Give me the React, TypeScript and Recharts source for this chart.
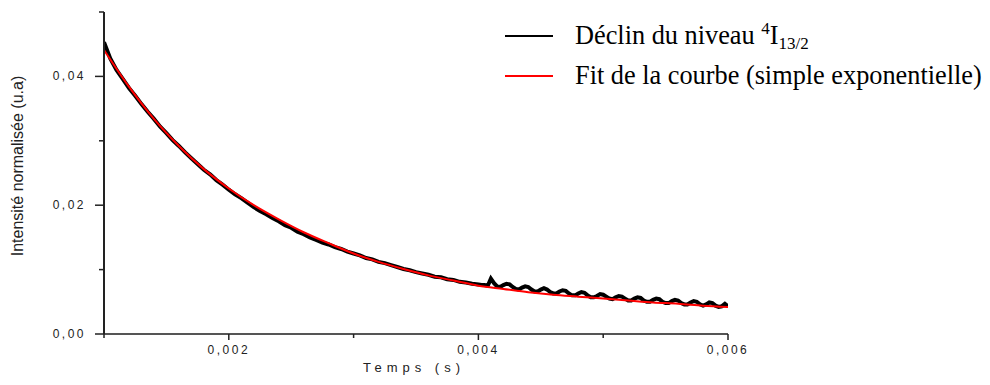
import React from "react";
import { LineChart, Line, XAxis, YAxis } from "recharts";

// temps (s) et intensité du déclin mesuré
const decayTime = [
  0.001, 0.00105, 0.0011, 0.00115, 0.0012, 0.00125, 0.0013, 0.00135, 0.0014, 0.00145,
  0.0015, 0.00155, 0.0016, 0.00165, 0.0017, 0.00175, 0.0018, 0.00185, 0.0019, 0.00195,
  0.002, 0.00205, 0.0021, 0.00215, 0.0022, 0.00225, 0.0023, 0.00235, 0.0024, 0.00245,
  0.0025, 0.00255, 0.0026, 0.00265, 0.0027, 0.00275, 0.0028, 0.00285, 0.0029, 0.00295,
  0.003, 0.00305, 0.0031, 0.00315, 0.0032, 0.00325, 0.0033, 0.00335, 0.0034, 0.00345,
  0.0035, 0.00355, 0.0036, 0.00365, 0.0037, 0.00375, 0.0038, 0.00385, 0.0039, 0.00395,
  0.004,
  0.004025, 0.00405, 0.004075, 0.0041, 0.004125, 0.00415, 0.004175, 0.0042, 0.004225, 0.00425,
  0.004275, 0.0043, 0.004325, 0.00435, 0.004375, 0.0044, 0.004425, 0.00445, 0.004475, 0.0045,
  0.004525, 0.00455, 0.004575, 0.0046, 0.004625, 0.00465, 0.004675, 0.0047, 0.004725, 0.00475,
  0.004775, 0.0048, 0.004825, 0.00485, 0.004875, 0.0049, 0.004925, 0.00495, 0.004975, 0.005,
  0.005025, 0.00505, 0.005075, 0.0051, 0.005125, 0.00515, 0.005175, 0.0052, 0.005225, 0.00525,
  0.005275, 0.0053, 0.005325, 0.00535, 0.005375, 0.0054, 0.005425, 0.00545, 0.005475, 0.0055,
  0.005525, 0.00555, 0.005575, 0.0056, 0.005625, 0.00565, 0.005675, 0.0057, 0.005725, 0.00575,
  0.005775, 0.0058, 0.005825, 0.00585, 0.005875, 0.0059, 0.005925, 0.00595, 0.005975, 0.006,
];

const decayValue = [
  0.0453, 0.0428, 0.041, 0.0396, 0.0382, 0.037, 0.0357, 0.0345, 0.0334, 0.0322,
  0.0312, 0.0301, 0.0292, 0.0282, 0.0273, 0.0264, 0.0255, 0.0248, 0.0239, 0.0232,
  0.0224, 0.0217, 0.0211, 0.0204, 0.0197, 0.0191, 0.0186, 0.018, 0.0175, 0.0169,
  0.0165, 0.0159, 0.0155, 0.015, 0.0146, 0.0142, 0.0139, 0.0135, 0.0132, 0.0128,
  0.0125, 0.0122, 0.0118, 0.0116, 0.0112, 0.011, 0.0107, 0.0104, 0.0101, 0.0099,
  0.0096, 0.0094, 0.0092, 0.0089, 0.0088, 0.0085, 0.0084, 0.0081, 0.008, 0.0078,
  0.0077,
  0.0076, 0.0076, 0.0075, 0.0086, 0.0079, 0.0074, 0.0073, 0.0076, 0.0078, 0.0077,
  0.0073, 0.007, 0.0069, 0.0072, 0.0074, 0.0073, 0.0069, 0.0066, 0.0066, 0.0069,
  0.0071, 0.0069, 0.0065, 0.0063, 0.0063, 0.0066, 0.0068, 0.0067, 0.0063, 0.006,
  0.006, 0.0063, 0.0065, 0.0064, 0.006, 0.0057, 0.0057, 0.0059, 0.0062, 0.0061,
  0.0058, 0.0055, 0.0054, 0.0057, 0.0059, 0.0058, 0.0055, 0.0052, 0.0052, 0.0055,
  0.0057, 0.0056, 0.0052, 0.005, 0.005, 0.0053, 0.0055, 0.0054, 0.005, 0.0048,
  0.0048, 0.0051, 0.0053, 0.0052, 0.0048, 0.0046, 0.0046, 0.0049, 0.0051, 0.005,
  0.0046, 0.0044, 0.0046, 0.0049, 0.0048, 0.0044, 0.0042, 0.0043, 0.0047, 0.0043,
];

// ajustement mono-exponentiel
const fitTime = [
  0.001, 0.0012, 0.0014, 0.0016, 0.0018, 0.002, 0.0022, 0.0024, 0.0026, 0.0028,
  0.003, 0.0032, 0.0034, 0.0036, 0.0038, 0.004, 0.0042, 0.0044, 0.0046, 0.0048,
  0.005, 0.0052, 0.0054, 0.0056, 0.0058, 0.006,
];
const fitValue = [
  0.0441, 0.0384, 0.0334, 0.0292, 0.0256, 0.0226, 0.02, 0.0178, 0.0158, 0.0141,
  0.0125, 0.0112, 0.0101, 0.0091, 0.0083, 0.0075, 0.007, 0.0065, 0.0061, 0.0058,
  0.0055, 0.0052, 0.0049, 0.0047, 0.0044, 0.0042,
];

const xTicks = [0.001, 0.002, 0.003, 0.004, 0.005, 0.006];
const xLabelTicks = [0.002, 0.004, 0.006];
const yTicks = [0, 0.01, 0.02, 0.03, 0.04, 0.05];
const yLabelTicks = [0, 0.02, 0.04];

const seriesNames = ["Déclin du niveau", "Fit de la courbe (simple exponentielle)"];
const seriesColors = ["#000000", "#ff0000"];

const decayData = decayTime.map((t, i) => ({ t, v: decayValue[i] }));
const fitData = fitTime.map((t, i) => ({ t, v: fitValue[i] }));

const sans = "'Liberation Sans', Arial, sans-serif";
const serif = "'Liberation Serif', 'Times New Roman', serif";
const fr = (v: number, d: number) => v.toFixed(d).replace(".", ",");

const YTick = (props: any) => {
  const { x, y, payload } = props;
  const major = yLabelTicks.includes(payload.value);
  return (
    <g>
      <line x1={x - (major ? 9 : 5)} x2={x} y1={y} y2={y} stroke="#222" strokeWidth={1.5} />
      {major && (
        <text x={x - 18} y={y + 4} textAnchor="end" fontFamily={sans} fontSize={12} letterSpacing={2.5} fill="#222">
          {fr(payload.value, 2)}
        </text>
      )}
    </g>
  );
};

const XTick = (props: any) => {
  const { x, y, payload } = props;
  const major = xLabelTicks.includes(payload.value);
  return (
    <g>
      <line x1={x} x2={x} y1={y} y2={y + (major ? 6 : 4)} stroke="#222" strokeWidth={1.5} />
      {major && (
        <text x={x} y={y + 20} textAnchor="middle" fontFamily={sans} fontSize={12} letterSpacing={2.5} fill="#222">
          {fr(payload.value, 3)}
        </text>
      )}
    </g>
  );
};

const LegendBox = () => (
  <div style={{ position: "absolute", left: 505, top: 16, fontFamily: serif, fontSize: 26.3, color: "#000" }}>
    {seriesNames.map((name, i) => (
      <div key={name} style={{ height: 40, display: "flex", alignItems: "center", whiteSpace: "nowrap" }}>
        <span style={{ display: "inline-block", width: 48, height: 2, background: seriesColors[i], marginRight: 22 }} />
        <span>
          {name}
          {i === 0 && (
            <>
              {" "}
              <span style={{ fontSize: 17, position: "relative", top: -10 }}>4</span>I
              <span style={{ fontSize: 17, position: "relative", top: 5 }}>13/2</span>
            </>
          )}
        </span>
      </div>
    ))}
  </div>
);

export default function App() {
  return (
    <div style={{ position: "absolute", left: 0, top: 0, width: 990, height: 385, background: "#fff" }}>
      <LineChart width={990} height={385} margin={{ top: 12, right: 262, left: 0, bottom: 0 }}>
        <XAxis
          type="number"
          dataKey="t"
          domain={[0.001, 0.006]}
          ticks={xTicks}
          allowDataOverflow
          height={51}
          tickSize={0}
          tickMargin={0}
          tick={<XTick />}
          stroke="#555"
          strokeWidth={2}
          interval={0}
          label={{
            content: ({ viewBox }: any) => (
              <text
                x={viewBox.x + viewBox.width / 2 - 2}
                y={viewBox.y + 38}
                textAnchor="middle"
                fontFamily={sans}
                fontSize={13}
                letterSpacing={5}
                fill="#222"
              >
                Temps (s)
              </text>
            ),
          }}
        />
        <YAxis
          type="number"
          domain={[0, 0.05]}
          ticks={yTicks}
          allowDataOverflow
          width={104}
          tickSize={0}
          tickMargin={0}
          tick={<YTick />}
          stroke="#222"
          strokeWidth={2}
          interval={0}
          label={{
            content: ({ viewBox }: any) => {
              const cx = viewBox.x + 17;
              const cy = viewBox.y + viewBox.height / 2 - 7;
              return (
                <text
                  x={cx}
                  y={cy}
                  transform={`rotate(-90 ${cx} ${cy})`}
                  textAnchor="middle"
                  dominantBaseline="central"
                  fontFamily={sans}
                  fontSize={16}
                  fill="#222"
                >
                  Intensité normalisée (u.a)
                </text>
              );
            },
          }}
        />
        <Line
          data={decayData}
          dataKey="v"
          type="linear"
          stroke={seriesColors[0]}
          strokeWidth={4}
          dot={false}
          isAnimationActive={false}
        />
        <Line
          data={fitData}
          dataKey="v"
          type="monotone"
          stroke={seriesColors[1]}
          strokeWidth={2}
          dot={false}
          isAnimationActive={false}
        />
      </LineChart>
      <LegendBox />
    </div>
  );
}
